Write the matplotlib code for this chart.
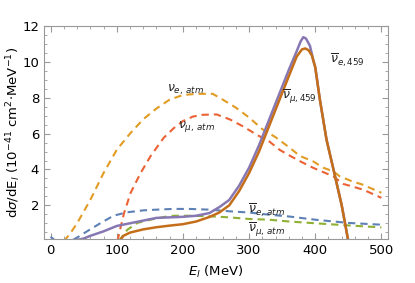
import matplotlib
matplotlib.use('Agg')
import matplotlib.pyplot as plt
from matplotlib.ticker import MultipleLocator

# nu_e,atm (dashed, light orange)
nue_atm_x = [20, 30, 40, 60, 80, 100, 120, 140, 160, 180, 200, 220, 245, 260, 280, 300,
             320, 340, 360, 377, 397, 412, 427, 437, 455, 472, 500]
nue_atm_y = [0.0, 0.45, 1.0, 2.3, 3.8, 5.1, 6.0, 6.8, 7.4, 7.9, 8.15, 8.22, 8.22, 7.9, 7.45, 6.9,
             6.25, 5.8, 5.25, 4.75, 4.45, 4.1, 3.9, 3.62, 3.35, 3.15, 2.7]

# nu_mu,atm (dashed, red)
num_atm_x = [101, 106, 111, 121, 136, 151, 171, 186, 200, 215, 230, 251, 271, 291, 311, 331,
             346, 360, 377, 397, 427, 442, 472, 500]
num_atm_y = [0.0, 0.8, 1.57, 2.7, 3.8, 4.74, 5.77, 6.3, 6.7, 6.95, 7.05, 7.07, 6.79, 6.4, 5.95, 5.55,
             5.1, 4.8, 4.46, 4.09, 3.62, 3.2, 2.88, 2.42]

# anti nu_e,atm (dashed, blue)
anue_atm_x = [0, 8, 30, 40, 55, 75, 95, 115, 140, 165, 185, 210, 240, 270, 300, 330, 360, 400, 450, 500]
anue_atm_y = [0.25, 0.0, 0.0, 0.2, 0.55, 1.0, 1.42, 1.61, 1.72, 1.77, 1.8, 1.8, 1.76, 1.67, 1.6, 1.48,
              1.38, 1.2, 1.02, 0.92]

# anti nu_mu,atm (dashed, green)
anum_atm_x = [103, 110, 116, 131, 151, 171, 186, 210, 240, 270, 300, 330, 360, 400, 450, 500]
anum_atm_y = [0.0, 0.35, 0.64, 1.02, 1.2, 1.35, 1.42, 1.42, 1.39, 1.33, 1.24, 1.2, 1.1, 1.0, 0.88, 0.77]

# anti nu_e,459 (solid, purple)
anue_459_x = [38, 50, 60, 80, 100, 120, 140, 160, 180, 200, 220, 240, 255, 270, 285, 300, 315, 330,
              345, 360, 372, 378, 382, 386, 392, 397, 400, 407, 417, 427, 440, 451]
anue_459_y = [0.05, 0.15, 0.3, 0.55, 0.85, 1.0, 1.15, 1.3, 1.33, 1.36, 1.42, 1.57, 1.9, 2.3, 3.1, 4.1,
              5.35, 6.75, 8.15, 9.55, 10.6, 11.15, 11.38, 11.3, 10.9, 10.1, 9.7, 7.9, 5.67, 4.09, 2.0, -0.2]

# anti nu_mu,459 (solid, dark orange)
anum_459_x = [104, 110, 120, 140, 160, 180, 200, 220, 240, 255, 270, 285, 300, 315, 330, 345, 360,
              372, 380, 385, 390, 395, 400, 407, 417, 427, 440, 451]
anum_459_y = [0.0, 0.3, 0.48, 0.66, 0.78, 0.87, 0.95, 1.1, 1.35, 1.6, 2.0, 2.8, 3.8, 5.0, 6.4, 7.8, 9.2,
              10.3, 10.7, 10.75, 10.65, 10.35, 9.7, 7.9, 5.67, 4.09, 2.0, -0.2]

plt.rcParams['font.family'] = 'DejaVu Sans'
plt.rcParams['mathtext.fontset'] = 'dejavusans'

fig = plt.figure(figsize=(4.15, 2.83), dpi=100)
ax = fig.add_axes([0.106, 0.154, 0.829, 0.754])

dash = (0, (3.5, 2.4))
ax.plot(anue_atm_x, anue_atm_y, color='#5E81B5', lw=1.5, ls=dash)
ax.plot(nue_atm_x, nue_atm_y, color='#E19C24', lw=1.5, ls=dash)
ax.plot(anum_atm_x, anum_atm_y, color='#8FB032', lw=1.5, ls=dash)
ax.plot(num_atm_x, num_atm_y, color='#EB6235', lw=1.5, ls=dash)
ax.plot(anue_459_x, anue_459_y, color='#8778B3', lw=1.8)
ax.plot(anum_459_x, anum_459_y, color='#C56E1A', lw=1.8)

lab = dict(fontsize=9, color='#222222')
ax.text(176, 8.35, r'$\nu_{e,\,atm}$', **lab)
ax.text(193, 6.3, r'$\nu_{\mu,\,atm}$', **lab)
ax.text(422, 9.9, r'$\overline{\nu}_{e,459}$', **lab)
ax.text(350, 7.9, r'$\overline{\nu}_{\mu,459}$', **lab)
ax.text(298, 1.55, r'$\overline{\nu}_{e,\,atm}$', **lab)
ax.text(298, 0.45, r'$\overline{\nu}_{\mu,\,atm}$', **lab)

ax.set_xlim(-10, 510)
ax.set_ylim(0.1, 12)
ax.xaxis.set_major_locator(MultipleLocator(100))
ax.xaxis.set_minor_locator(MultipleLocator(20))
ax.yaxis.set_major_locator(MultipleLocator(2))
ax.yaxis.set_minor_locator(MultipleLocator(0.5))
ax.tick_params(which='both', direction='in', top=True, right=True, color='#999999', labelsize=9.5)
ax.tick_params(which='major', length=4, width=0.8)
ax.tick_params(which='minor', length=2, width=0.6)
for s in ax.spines.values():
    s.set_color('#999999')
    s.set_linewidth(0.8)

ax.set_xlabel(r'$E_l$ (MeV)', fontsize=9.5, labelpad=5)
ax.set_ylabel(r'd$\sigma$/dE$_l$ (10$^{-41}$ cm$^2$$\cdot$MeV$^{-1}$)', fontsize=9.5)
ax.yaxis.set_label_coords(-0.06, 0.5)

fig.savefig('out.png', dpi=100)
